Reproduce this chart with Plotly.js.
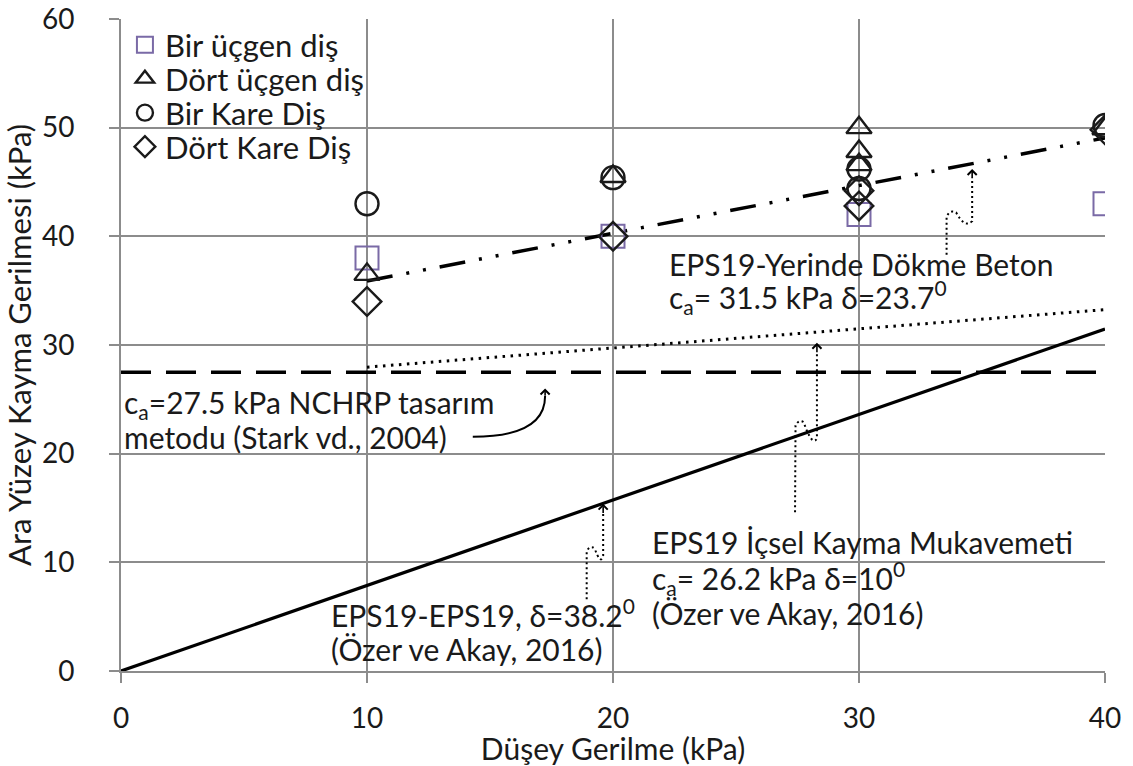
<!DOCTYPE html>
<html>
<head>
<meta charset="utf-8">
<script src="https://cdn.plot.ly/plotly-3.0.1.min.js"></script>
<style>
  html, body { margin: 0; padding: 0; background: #ffffff; }
  #chart { width: 1133px; height: 766px; }
</style>
</head>
<body>
<div id="chart"></div>
<script>
// Measured interface shear strength (kPa) against normal stress (kPa)
const birUcgenX  = [10, 20, 30, 40];
const birUcgenY  = [38, 40, 42, 43];
const dortUcgenX = [10, 20, 30, 30, 30, 40];
const dortUcgenY = [36.5, 45.5, 50, 47.8, 46.6, 49.9];
const birKareX   = [10, 20, 30, 30, 40];
const birKareY   = [43, 45.4, 46.2, 44.4, 50.2];
const dortKareX  = [10, 20, 30, 30, 40];
const dortKareY  = [34, 40, 44.2, 42.8, 49.8];

// Failure envelopes: adhesion c_a (kPa) and friction angle delta (deg)
const nchrpCa = 27.5;                      // NCHRP design value
const icselCa = 26.2, icselDelta = 10;     // EPS19 internal shear strength
const betonCa = 31.5, betonDelta = 23.7;   // EPS19 - cast-in-place concrete
const epsCa = 0, epsDelta = 38.2;          // EPS19 - EPS19
const envelopeX = [10, 40];
const fullX = [0, 40];

const tick = [0, 10, 20, 30, 40];
const yTicks = [0, 10, 20, 30, 40, 50, 60];

const envelope = (ca, d, xs) => xs.map(x => ca + Math.tan(d * Math.PI / 180) * x);

const FONT = 'Lato, "Open Sans", sans-serif';
const INK = '#1a1a1a';
const GRID = '#8c8c8c';
const PURPLE = '#7a6aa6';

const traces = [
  { x: fullX, y: envelope(epsCa, epsDelta, fullX), mode: 'lines', showlegend: false,
    line: { color: '#000', width: 3.2 }, hoverinfo: 'skip' },
  { x: fullX, y: fullX.map(() => nchrpCa), mode: 'lines', showlegend: false,
    line: { color: '#000', width: 3.5, dash: '30px,15px' }, hoverinfo: 'skip' },
  { x: envelopeX, y: envelope(icselCa, icselDelta, envelopeX), mode: 'lines', showlegend: false,
    line: { color: '#000', width: 3, dash: '2.5px,5.5px' }, hoverinfo: 'skip' },
  { x: envelopeX, y: envelope(betonCa, betonDelta, envelopeX), mode: 'lines', showlegend: false,
    line: { color: '#000', width: 3.5, dash: '26px,14px,3px,14px,3px,14px' }, hoverinfo: 'skip' },

  { x: birUcgenX, y: birUcgenY, mode: 'markers', name: 'Bir üçgen diş', legend: 'legend',
    marker: { symbol: 'square-open', size: 23, color: PURPLE, line: { width: 2, color: PURPLE } } },
  { x: dortUcgenX, y: dortUcgenY, mode: 'markers', name: 'Dört üçgen diş', legend: 'legend2',
    marker: { symbol: 'triangle-up-open', size: 22, color: INK, line: { width: 2.4, color: INK } } },
  { x: birKareX, y: birKareY, mode: 'markers', name: 'Bir Kare Diş', legend: 'legend3',
    marker: { symbol: 'circle-open', size: 23, color: INK, line: { width: 2.4, color: INK } } },
  { x: dortKareX, y: dortKareY, mode: 'markers', name: 'Dört Kare Diş', legend: 'legend4',
    marker: { symbol: 'diamond-open', size: 22, color: INK, line: { width: 2.4, color: INK } } }
];

const txt = (text, x, y) => ({
  text, x, y, xref: 'x', yref: 'y', xanchor: 'left', yanchor: 'middle',
  showarrow: false, font: { family: FONT, size: 30, color: INK }
});

// arrowhead only: short stem ending at the tip
const head = (x, y, ax, ay) => ({
  x, y, ax, ay, xref: 'x', yref: 'y', axref: 'x', ayref: 'y', text: '',
  showarrow: true, arrowhead: 4, arrowsize: 1.1, arrowwidth: 1.6, arrowcolor: '#000'
});

const annotations = [
  txt('c<sub>a</sub>=27.5 kPa NCHRP tasarım', 0.05, 24.6),
  txt('metodu (Stark vd., 2004)', 0.05, 21.5),
  txt('EPS19-Yerinde Dökme Beton', 22.2, 37.5),
  txt('c<sub>a</sub>= 31.5 kPa δ=23.7<sup>0</sup>', 22.2, 34.4),
  txt('EPS19 İçsel Kayma Mukavemeti', 21.5, 11.9),
  txt('c<sub>a</sub>= 26.2 kPa δ=10<sup>0</sup>', 21.5, 8.6),
  txt('(Özer ve Akay, 2016)', 21.5, 5.3),
  txt('EPS19-EPS19, δ=38.2<sup>0</sup>', 8.45, 5.3),
  txt('(Özer ve Akay, 2016)', 8.45, 2.0),
  head(17.24, 26.0, 17.24, 25.2),
  head(19.6, 15.4, 19.6, 14.4),
  head(28.29, 30.2, 28.29, 29.2),
  head(34.6, 46.2, 34.6, 45.2)
];

const dotted = { color: '#000', width: 2, dash: '2px,3px' };
const shapes = [
  // curved pointer from the NCHRP label to the dashed line
  { type: 'path', xref: 'x', yref: 'y', line: { color: '#000', width: 2 },
    path: 'M14.3,21.55 Q17.24,21.55 17.24,25.3' },
  // wavy dotted pointers
  { type: 'path', xref: 'x', yref: 'y', line: dotted,
    path: 'M18.93,6.6 L18.93,11.0 Q19.05,11.6 19.25,11.3 Q19.5,9.7 19.6,10.6 L19.6,14.6' },
  { type: 'path', xref: 'x', yref: 'y', line: dotted,
    path: 'M27.4,14.6 L27.42,22.6 Q27.55,23.2 27.75,22.9 Q28.1,20.6 28.29,21.4 L28.29,29.4' },
  { type: 'path', xref: 'x', yref: 'y', line: dotted,
    path: 'M33.56,38.3 L33.56,41.8 Q33.7,42.5 33.95,42.2 Q34.3,40.7 34.6,41.4 L34.6,45.4' }
];

const axisCommon = {
  showgrid: true, gridcolor: GRID, gridwidth: 2,
  showline: true, linecolor: GRID, linewidth: 2,
  zeroline: false, ticks: 'outside', ticklen: 10, tickwidth: 2, tickcolor: GRID,
  tickfont: { family: FONT, size: 28, color: INK }
};

// one single-entry legend per series so the row spacing can be set freely
const legendRow = py => ({
  x: 0.004, y: (671 - py) / 652, xanchor: 'left', yanchor: 'middle',
  bgcolor: 'rgba(0,0,0,0)', borderwidth: 0, itemwidth: 30,
  font: { family: FONT, size: 31, color: INK }
});

const layout = {
  width: 1133, height: 766,
  margin: { l: 121, r: 28, t: 19, b: 95 },
  paper_bgcolor: '#ffffff', plot_bgcolor: '#ffffff',
  font: { family: FONT, color: INK },
  xaxis: Object.assign({}, axisCommon, {
    range: [0, 40], tickvals: tick, ticktext: tick.map(String),
    ticklabelstandoff: 11,
    title: { text: 'Düşey Gerilme (kPa)', font: { family: FONT, size: 30, color: INK }, standoff: 2 }
  }),
  yaxis: Object.assign({}, axisCommon, {
    range: [0, 60], tickvals: yTicks, ticktext: yTicks.map(String),
    ticklabelstandoff: 29,
    title: { text: 'Ara Yüzey Kayma Gerilmesi (kPa)', font: { family: FONT, size: 31, color: INK }, standoff: 2 }
  }),
  legend: legendRow(45),
  legend2: legendRow(79),
  legend3: legendRow(113),
  legend4: legendRow(147),
  annotations, shapes,
  showlegend: true
};

Plotly.newPlot('chart', traces, layout, { displayModeBar: false, staticPlot: true });
</script>
</body>
</html>
